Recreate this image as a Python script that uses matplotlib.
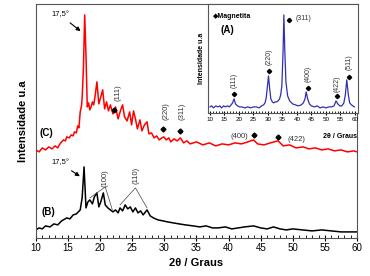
import numpy as np
from matplotlib import pyplot as plt

plt.rcParams['font.family'] = ['Liberation Sans', 'DejaVu Sans']

# curve (C) - red
tc = [10, 10.5, 11, 11.5, 12, 12.5, 13, 13.4, 13.75, 14.0, 14.3, 14.6, 14.8, 15.2, 15.5, 15.8, 16.0, 16.3,
      16.5, 16.7, 16.9, 17.1, 17.2, 17.4, 17.6, 17.8, 18.0, 18.2, 18.4, 18.6, 18.8, 19.0, 19.2, 19.5, 19.8,
      20.1, 20.4, 20.7, 21.0, 21.3, 21.6, 22.0, 22.4, 22.8, 23.2, 23.5, 23.8, 24.2, 24.6, 24.9, 25.2, 25.5,
      25.8, 26.2, 26.5, 26.9, 27.3, 27.6, 28.0, 28.4, 28.8, 29.2, 29.6, 29.9, 30.3, 30.7, 31.0, 31.5, 32.0,
      32.5, 33.0, 33.5, 34.0, 35.0, 36.0, 37.0, 38.0, 39.0, 40.0, 41.0, 42.0, 43.0, 43.9, 44.5, 45.5, 46.5,
      47.7, 48.5, 49.5, 50.5, 51.6, 52.5, 53.5, 54.5, 55.5, 56.5, 57.5, 58.5, 59.5, 60.0]
hc = [88, 86, 90, 88, 91, 89, 92, 90, 94, 96, 98, 97, 101, 100, 103, 102, 106, 105,
      112, 110, 126, 132, 140, 170, 223, 182, 131, 135, 128, 131, 136, 133, 141, 156, 134,
      141, 148, 129, 136, 127, 133, 124, 131, 119, 128, 133, 121, 117, 126, 113, 127, 119,
      109, 118, 107, 113, 116, 104, 105, 100, 102, 98, 100, 101, 98, 100, 96, 99, 97,
      100, 95, 97, 94, 96, 93, 95, 92, 94, 93, 95, 94, 96, 98, 94, 93, 95,
      97, 92, 93, 90, 91, 89, 90, 88, 89, 87, 88, 86, 87, 86]

# curve (B) - black
tb = [10, 10.5, 11, 11.5, 12.2, 12.8, 13.4, 14.0, 14.8, 15.3, 15.8, 16.3, 16.9, 17.2, 17.5, 17.8, 18.1,
      18.4, 18.8, 19.1, 19.5, 19.8, 20.1, 20.5, 20.8, 21.2, 21.6, 22.0, 22.4, 22.8, 23.1, 23.5, 23.9,
      24.3, 24.7, 25.1, 25.5, 25.9, 26.3, 26.7, 27.3, 27.8, 28.3, 29.0, 29.8, 30.5, 31.4, 32.3, 33.3,
      34.5, 35.5, 36.5, 37.5, 38.4, 39.5, 40.5, 41.5, 42.5, 43.9, 45.0, 46.0, 47.0, 48.0, 49.0, 50.0,
      51.5, 53.0, 54.5, 56.0, 57.5, 59.0, 60.0]
hb = [8, 10, 9, 12, 11, 14, 13, 17, 20, 19, 23, 24, 28, 40, 71, 30, 36,
      38, 34, 41, 45, 31, 36, 45, 33, 30, 28, 26, 28, 25, 30, 27, 33,
      29, 31, 26, 30, 25, 27, 23, 28, 22, 20, 18, 17, 16, 15, 14, 13,
      12, 11, 12, 10, 10, 11, 9, 10, 11, 12, 10, 9, 11, 9, 8, 9,
      8, 7, 8, 7, 6, 6, 6]

# inset (A) - magnetita, blue
ta = [10, 10.6, 11.2, 12, 12.7, 13.4, 14, 14.7, 15.3, 16, 16.7, 17.3, 17.8, 18.3, 18.8, 19.5, 20.2,
      21, 22, 23, 24, 25, 26, 27, 27.8, 28.5, 29.0, 29.4, 29.8, 30.2, 30.6, 31.0, 31.5, 32, 32.5, 33,
      33.5, 34, 34.4, 34.8, 35.2, 35.5, 35.8, 36.2, 36.8, 37.5, 38.5, 39.5, 40.5, 41.5, 42.2, 42.8,
      43.2, 43.7, 44.3, 45, 46, 47, 48, 49, 50, 51, 52, 52.8, 53.5, 54.1, 54.8, 55.5, 56.2, 56.7,
      57.2, 57.7, 58.2, 58.8, 59.3, 59.8]
ha = [6, 7, 5, 7, 6, 7, 5, 7, 6, 7, 6, 8, 10, 14, 9, 7, 6,
      6, 5, 6, 5, 6, 6, 5, 7, 8, 10, 15, 26, 37, 24, 14, 11, 10, 11, 11,
      12, 14, 18, 27, 60, 98, 64, 31, 17, 12, 9, 8, 7, 8, 10, 14,
      21, 14, 9, 7, 6, 7, 5, 6, 5, 6, 6, 7, 12, 9, 7, 7, 10, 18,
      33, 19, 10, 8, 7, 6]

fig = plt.figure(figsize=(3.7, 2.76), dpi=100)
ax = fig.add_axes([0.097, 0.138, 0.868, 0.848])
ax.plot(tc, hc, color='#ff0000', lw=1.1)
ax.plot(tb, hb, color='black', lw=1.1)
ax.set_xlim(10, 60)
ax.set_ylim(0, 234)
ax.set_yticks([])
ax.set_xticks(np.arange(10, 61, 5))
ax.set_xticks(np.arange(10, 61, 1), minor=True)
ax.tick_params(axis='x', which='major', direction='inout', length=4, labelsize=7, pad=2)
ax.tick_params(axis='x', which='minor', direction='in', length=2)
for s in ax.spines.values():
    s.set_color('#555555')
ax.set_xlabel('2θ / Graus', fontsize=8, fontweight='bold', labelpad=3)
ax.set_ylabel('Intensidade u.a', fontsize=8, fontweight='bold', labelpad=6)

tk = dict(fontsize=5.5, color='#333333')
ax.annotate('17,5°', xy=(17.3, 205), xytext=(13.75, 223), ha='center', va='center', fontsize=5.5,
            arrowprops=dict(arrowstyle='-|>', color='black', lw=0.8, mutation_scale=6))
ax.annotate('17,5°', xy=(17.2, 60), xytext=(13.75, 75), ha='center', va='center', fontsize=5.5,
            arrowprops=dict(arrowstyle='-|>', color='black', lw=0.8, mutation_scale=6))
ax.text(11.7, 105, '(C)', fontsize=7, fontweight='bold', ha='center', va='center')
ax.text(11.9, 26, '(B)', fontsize=7, fontweight='bold', ha='center', va='center')

ax.text(20.8, 60, '(100)', rotation=90, ha='center', va='center', **tk)
ax.plot([18.4, 20.8, 21.9], [40, 51, 28], color='#444444', lw=0.5)
ax.text(25.6, 62, '(110)', rotation=90, ha='center', va='center', **tk)
ax.plot([23.1, 25.5, 27.3], [33, 50, 30], color='#444444', lw=0.5)

ax.plot([22.2, 29.8, 32.5, 43.9, 47.7], [128, 109, 107, 103, 101], 'D', color='black', ms=2.5)
ax.text(22.8, 145, '(111)', rotation=90, ha='center', va='center', **tk)
ax.text(30.2, 127, '(220)', rotation=90, ha='center', va='center', **tk)
ax.text(32.8, 127, '(311)', rotation=90, ha='center', va='center', **tk)
ax.text(41.6, 101, '(400)', ha='center', va='center', **tk)
ax.text(50.6, 98, '(422)', ha='center', va='center', **tk)

# inset
ins = fig.add_axes([0.562, 0.591, 0.405, 0.395])
ins.set_facecolor('white')
ins.plot(ta, ha, color='#3030b0', lw=0.9)
ins.set_xlim(9.3, 61)
ins.set_ylim(0, 109)
ins.set_yticks([])
ins.set_xticks(np.arange(10, 61, 5))
ins.set_xticks(np.arange(10, 61, 1), minor=True)
ins.tick_params(axis='x', which='major', direction='inout', length=3, labelsize=4.5, pad=1.5)
ins.tick_params(axis='x', which='minor', direction='in', length=1.5)
for s in ins.spines.values():
    s.set_color('#555555')
ins.set_ylabel('Intensidade u.a', fontsize=5, fontweight='bold', labelpad=2)
ins.text(55, -24, '2θ / Graus', fontsize=5, fontweight='bold', ha='center', va='center', clip_on=False)

ik = dict(fontsize=5, color='#333333')
ins.text(11.0, 96, '◆Magnetita', fontsize=5, fontweight='bold', ha='left', va='center')
ins.text(15.9, 83, '(A)', fontsize=7, fontweight='bold', ha='center', va='center')
ins.plot([18.3, 30.3, 37.2, 43.8, 53.8, 57.9], [19, 42, 93, 25, 17, 36], 'D', color='black', ms=2.2)
ins.text(18.3, 33, '(111)', rotation=90, ha='center', va='center', **ik)
ins.text(30.3, 56, '(220)', rotation=90, ha='center', va='center', **ik)
ins.text(39.5, 94, '(311)', ha='left', va='center', **ik)
ins.text(43.8, 39, '(400)', rotation=90, ha='center', va='center', **ik)
ins.text(53.8, 29, '(422)', rotation=90, ha='center', va='center', **ik)
ins.text(57.9, 51, '(511)', rotation=90, ha='center', va='center', **ik)

fig.savefig('out.png', dpi=100)
